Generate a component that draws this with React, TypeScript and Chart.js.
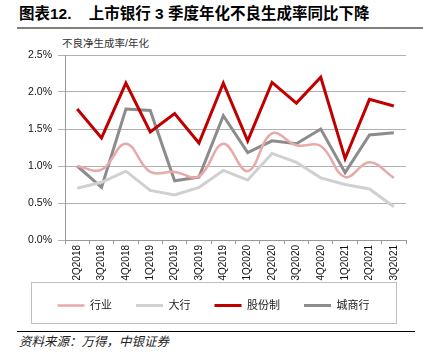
import React, { useEffect, useRef } from "react";
import { Chart, registerables } from "chart.js";

Chart.register(...registerables);

const categories = ["2Q2018", "3Q2018", "4Q2018", "1Q2019", "2Q2019", "3Q2019", "4Q2019", "1Q2020", "2Q2020", "3Q2020", "4Q2020", "1Q2021", "2Q2021", "3Q2021"];
const industry = [1.0, 0.95, 1.3, 0.92, 0.92, 0.86, 1.3, 0.93, 1.44, 1.28, 1.27, 0.85, 1.05, 0.84];
const bigBanks = [0.7, 0.78, 0.93, 0.67, 0.61, 0.71, 0.94, 0.81, 1.17, 1.05, 0.84, 0.75, 0.69, 0.45];
const jointStock = [1.77, 1.38, 2.12, 1.46, 1.71, 1.31, 2.12, 1.34, 2.13, 1.85, 2.2, 1.1, 1.9, 1.81];
const cityBanks = [1.0, 0.71, 1.77, 1.75, 0.8, 0.85, 1.68, 1.18, 1.34, 1.3, 1.5, 0.91, 1.42, 1.45];
const yTicks = [0, 0.5, 1.0, 1.5, 2.0, 2.5];

const LATIN = '"Liberation Sans", Arial, sans-serif';
const CJK = '"Liberation Sans", "Noto Sans CJK SC", sans-serif';

const extendXLabelArea = {
  id: "extendXLabelArea",
  afterLayout(chart: any) {
    const x = chart.scales.x;
    if (x) x.bottom = x.bottom + 30;
  },
};

export default function App() {
  const ref = useRef<HTMLCanvasElement | null>(null);
  useEffect(() => {
    document.body.style.margin = "0";
    const canvas = ref.current!;
    const chart = new Chart(canvas, {
      type: "line",
      data: {
        labels: categories,
        datasets: [
          { label: "行业", data: industry, borderColor: "#E8A9A9", backgroundColor: "#E8A9A9", borderWidth: 2.5, tension: 0.4, pointRadius: 0 },
          { label: "大行", data: bigBanks, borderColor: "#D0D0D0", backgroundColor: "#D0D0D0", borderWidth: 3, tension: 0, pointRadius: 0 },
          { label: "股份制", data: jointStock, borderColor: "#C00000", backgroundColor: "#C00000", borderWidth: 3, tension: 0, pointRadius: 0 },
          { label: "城商行", data: cityBanks, borderColor: "#8C8C8C", backgroundColor: "#8C8C8C", borderWidth: 3, tension: 0, pointRadius: 0 },
        ],
      },
      options: {
        responsive: false,
        animation: false,
        layout: { padding: { top: 25, right: 17, left: 21, bottom: 9 } },
        plugins: {
          tooltip: { enabled: false },
          legend: {
            position: "bottom",
            labels: {
              usePointStyle: true,
              pointStyle: "line",
              pointStyleWidth: 27,
              padding: 24,
              color: "#222",
              font: { family: CJK, size: 11 },
            },
          },
        },
        scales: {
          x: {
            offset: true,
            afterFit: (s: any) => { s.height = 36; },
            grid: { offset: true, drawOnChartArea: false, drawTicks: true, tickLength: 4, color: "#999" },
            border: { color: "#999", width: 1 },
            ticks: { minRotation: 90, maxRotation: 90, padding: 1, color: "#111", font: { family: LATIN, size: 10 }, autoSkip: false },
          },
          y: {
            min: 0,
            max: 2.5,
            afterFit: (s: any) => { s.width = 44; },
            afterBuildTicks: (s: any) => { s.ticks = yTicks.map((v) => ({ value: v })); },
            grid: { color: "#B0B0B0", tickLength: 7, lineWidth: 1 },
            border: { color: "#999", width: 1 },
            ticks: { padding: 6, color: "#111", font: { family: LATIN, size: 10.5 }, callback: (v: any) => Number(v).toFixed(1) + "%" },
          },
        },
      },
      plugins: [extendXLabelArea],
    });
    return () => chart.destroy();
  }, []);

  return (
    <div style={{ position: "fixed", left: 0, top: 0, width: 423, height: 363, background: "#fff", overflow: "hidden" }}>
      <div style={{ position: "absolute", left: 19, top: 4, fontFamily: CJK, fontWeight: "bold", fontSize: 15.5, lineHeight: "20px", color: "#000", whiteSpace: "nowrap" }}>
        图表12.&nbsp;&nbsp;&nbsp;&nbsp;上市银行 3 季度年化不良生成率同比下降
      </div>
      <div style={{ position: "absolute", left: 17, top: 27, width: 406, height: 2, background: "#7F7F7F" }} />
      <div style={{ position: "absolute", left: 62, top: 36, fontFamily: CJK, fontSize: 10.5, lineHeight: "14px", color: "#333", whiteSpace: "nowrap" }}>
        不良净生成率/年化
      </div>
      <div style={{ position: "absolute", left: 31, top: 282, width: 364, height: 40, border: "1px solid #BFBFBF" }} />
      <canvas ref={ref} width={423} height={300} style={{ position: "absolute", left: 0, top: 30, width: 423, height: 300 }} />
      <div style={{ position: "absolute", left: 17, top: 331, width: 398, height: 1, background: "#000" }} />
      <div style={{ position: "absolute", left: 19, top: 334, fontFamily: CJK, fontStyle: "italic", fontSize: 12.5, lineHeight: "16px", color: "#222", whiteSpace: "nowrap" }}>
        资料来源：万得，中银证券
      </div>
    </div>
  );
}
